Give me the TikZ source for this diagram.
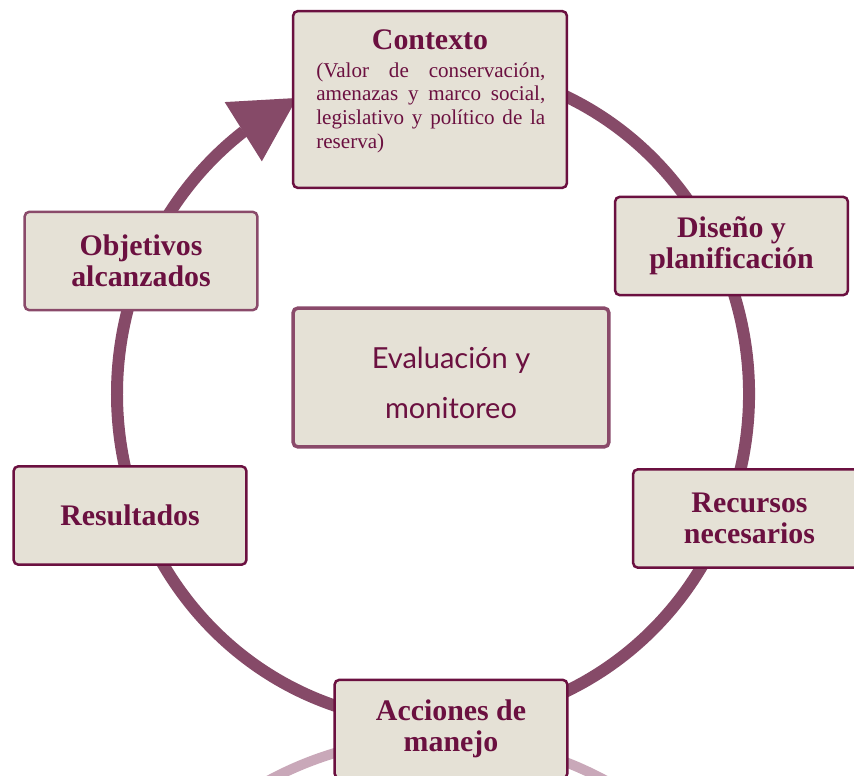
\documentclass[tikz,border=0pt]{standalone}
\usepackage{fontspec}
\setmainfont{Liberation Serif}
\newfontfamily\handfont{Lato}
\usetikzlibrary{arrows.meta,bending}
\definecolor{ringc}{HTML}{864A68}
\definecolor{boxfill}{HTML}{E5E1D6}
\definecolor{darkb}{HTML}{6B1040}
\definecolor{lightb}{HTML}{8A4A6A}
\definecolor{ghost}{HTML}{C9A8B9}
\tikzset{
  stage/.style={draw=darkb, line width=0.05cm, fill=boxfill, rounded corners=0.1cm,
    minimum width=4.66cm, minimum height=1.97cm, inner sep=0pt, align=center,
    text=darkb, font=\fontsize{17}{17.6}\selectfont\bfseries},
  ringline/.style={draw=ringc, line width=0.24cm},
}
\begin{document}
\begin{tikzpicture}[x=0.02cm, y=-0.02cm]
\useasboundingbox (0,0) rectangle (854,776);
\clip (0,0) rectangle (854,776);
\fill[white] (0,0) rectangle (854,776);
% faint ring of the next diagram
\coordinate (ghostc) at (437,1093);
\draw[ghost, line width=0.2cm] (ghostc) circle[radius=7.1cm];
% main cycle ring
\coordinate (ringc0) at (433,394);
\coordinate (ringstart) at ({433+316*cos(290)},{394+328*sin(290)});
\draw[ringline, -{Triangle[length=1.27cm, width=1.4cm, line width=0pt, flex]}]
  (ringstart) arc[start angle=70, end angle=-244.5, x radius=6.32cm, y radius=6.56cm];
% boxes
\node[stage, minimum width=5.48cm, minimum height=3.54cm] (contexto) at (430,99.5) {};
\node[text=darkb, font=\fontsize{17}{18}\selectfont\bfseries, anchor=base, inner sep=0pt] (ctitle) at (430,50) {Contexto};
\node[anchor=north west, text width=4.58cm, align=justify, inner sep=0pt,
  font=\fontsize{12}{13.6}\selectfont, text=darkb] (cdesc) at (316,62)
  {(Valor de conservación,\linebreak amenazas y marco social,\linebreak legislativo y político de la\linebreak reserva)};
\node[stage] (diseno) at (731.5,246) {Diseño y\\planificación};
\node[stage] (recursos) at (749.5,518.5) {Recursos\\necesarios};
\node[stage] (acciones) at (451,729) {Acciones de\\manejo};
\node[stage] (resultados) at (130,515.5) {Resultados};
\node[stage, draw=lightb] (objetivos) at (141,261) {Objetivos\\alcanzados};
\node[stage, draw=lightb, line width=0.07cm, minimum width=6.32cm, minimum height=2.78cm] (evaluacion) at (451,377.5) {};
\node[text=darkb, align=center, inner sep=0pt,
  font=\fontsize{16.5}{28.4}\selectfont\handfont] (evaltext) at (451,383) {Evaluación y\\monitoreo};
\end{tikzpicture}
\end{document}
